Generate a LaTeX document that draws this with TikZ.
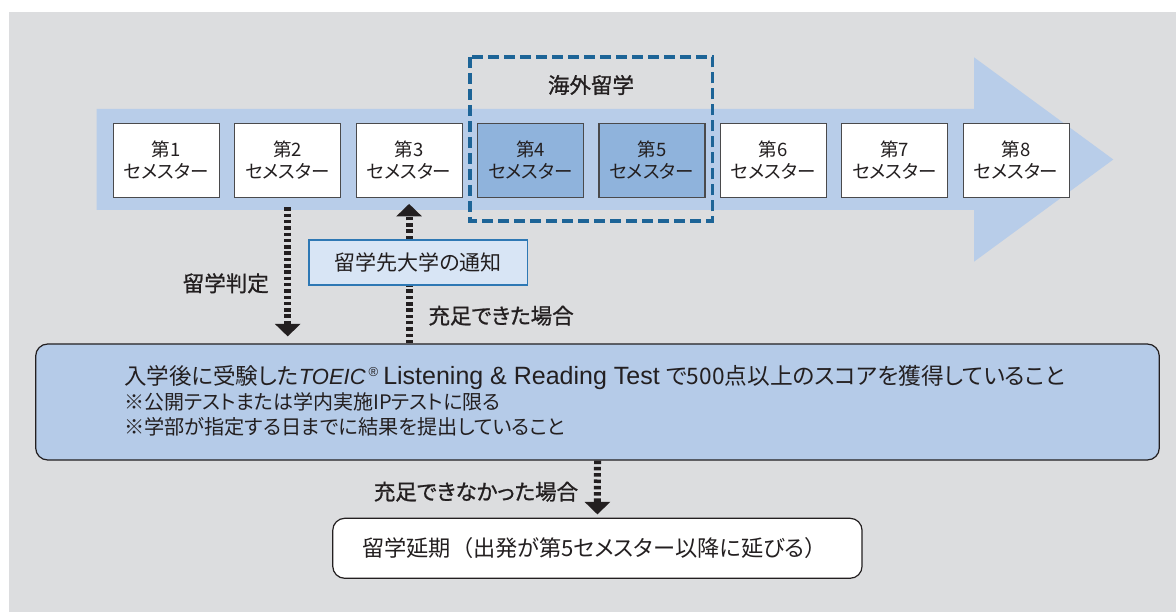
\documentclass[tikz,border=0pt]{standalone}
\usepackage{fontspec}
\setmainfont{Noto Sans CJK JP}[RawFeature=+palt]
\newfontfamily\jpb{Noto Sans CJK JP}[RawFeature=+palt,FakeBold=1]
\newfontfamily\jpn{Noto Sans CJK JP}
\newfontfamily\lat{Liberation Sans}
\usetikzlibrary{arrows.meta}
\definecolor{bg}{HTML}{DCDDDF}
\definecolor{band}{HTML}{B8CDE9}
\definecolor{sem}{HTML}{8FB3DC}
\definecolor{dashc}{HTML}{1D6497}
\definecolor{bigfill}{HTML}{B5CBE8}
\definecolor{notefill}{HTML}{D8E5F5}
\definecolor{noteline}{HTML}{2E78B4}
\definecolor{ink}{HTML}{231F20}
\definecolor{boxline}{HTML}{4A4A4C}
\tikzset{
  sembox/.style={draw=boxline, line width=1.2pt, fill=white, minimum width=106pt, minimum height=74pt, inner sep=0pt, align=center, text=ink, font=\fontsize{18.5}{22.4}\selectfont},
  semhl/.style={sembox, fill=sem},
  lbl/.style={inner sep=0pt, text=ink, font=\jpb\fontsize{21.5}{24}\selectfont},
  txt/.style={inner sep=0pt, text=ink},
  dotline/.style={draw=ink, line width=7pt, dash pattern=on 3.5pt off 2.8pt},
  tip/.style={-{Triangle[width=25pt,length=12.5pt]}},
  dashframe/.style={draw=dashc, line width=3.6pt, dash pattern=on 11pt off 5pt},
}
\begin{document}
\begin{tikzpicture}[x=1pt,y=-1pt]
\useasboundingbox (0,0) rectangle (1176,612);
\fill[white] (0,0) rectangle (1176,612);
\fill[bg] (9,12) rectangle (1176,612);
% band arrow
\fill[band] (96.7,109) -- (974,109) -- (974,57.3) -- (1113.3,159.5) -- (974,261.7) -- (974,210) -- (96.7,210) -- cycle;
% semesters
\node[sembox] (s1) at (166.3,160.3) {第1\\セメスター};
\node[sembox] (s2) at (287.7,160.3) {第2\\セメスター};
\node[sembox] (s3) at (409.1,160.3) {第3\\セメスター};
\node[semhl]  (s4) at (530.5,160.3) {第4\\セメスター};
\node[semhl]  (s5) at (651.9,160.3) {第5\\セメスター};
\node[sembox] (s6) at (773.3,160.3) {第6\\セメスター};
\node[sembox] (s7) at (894.7,160.3) {第7\\セメスター};
\node[sembox] (s8) at (1016.1,160.3) {第8\\セメスター};
% abroad frame
\draw[dashframe] (470,57) rectangle (712.3,221);
\node[lbl] (abroad) at (591,85) {海外留学};
% note box
\node[draw=noteline, line width=1.5pt, fill=notefill, minimum width=218.3pt, minimum height=45pt, inner sep=0pt, text=ink, font=\fontsize{21}{24}\selectfont] (note) at (418.2,262.5) {留学先大学の通知};
% big box
\node[draw=ink, line width=1.2pt, fill=bigfill, rounded corners=12pt, minimum width=1123.6pt, minimum height=116pt, inner sep=0pt] (big) at (597.5,402) {};
\node[txt, anchor=base west, font=\fontsize{22.5}{24}\selectfont] (l1) at (124,384.7) {入学後に受験した{\lat\itshape\fontsize{22}{24}\selectfont TOEIC}\hspace{3pt}{\lat\fontsize{13}{13}\selectfont\raisebox{8pt}{®}}\hspace{5pt}{\lat\fontsize{25}{24}\selectfont Listening \& Reading Test}\hspace{6pt}{\fontsize{22.7}{24}\selectfont で500点以上のスコアを獲得していること}};
\node[txt, anchor=base west, font=\fontsize{20}{24}\selectfont] (l2) at (124,409.2) {※公開テストまたは学内実施IPテストに限る};
\node[txt, anchor=base west, font=\fontsize{20.2}{24}\selectfont] (l3) at (124,434.8) {※学部が指定する日までに結果を提出していること};
% delay box
\node[draw=ink, line width=1.2pt, fill=white, rounded corners=12pt, minimum width=529.3pt, minimum height=60pt, inner sep=0pt] (delay) at (597.4,548.3) {};
\node[txt, font=\fontsize{22.2}{24}\selectfont] (delaytxt) at (594.5,548.3) {留学延期{\jpn （}出発が第5セメスター以降に延びる{\jpn ）}};
% labels
\node[lbl, anchor=east] (judge) at (269,283.3) {留学判定};
\node[lbl, anchor=west] (ok) at (428.3,315.7) {充足できた場合};
\node[lbl, anchor=east] (ng) at (578.3,491.7) {充足できなかった場合};
% connectors
\draw[dotline, tip, shorten >=7pt] ([yshift=-9.5pt]s2.south) -- (s2.south |- big.north);
\draw[dotline] (big.north -| s3.south) -- (note.south -| s3.south);
\draw[dotline, tip, shorten >=6pt] (note.north -| s3.south) -- (s3.south);
\draw[dotline, tip, shorten >=3.3pt] (big.south) -- (delay.north);
\end{tikzpicture}
\end{document}
